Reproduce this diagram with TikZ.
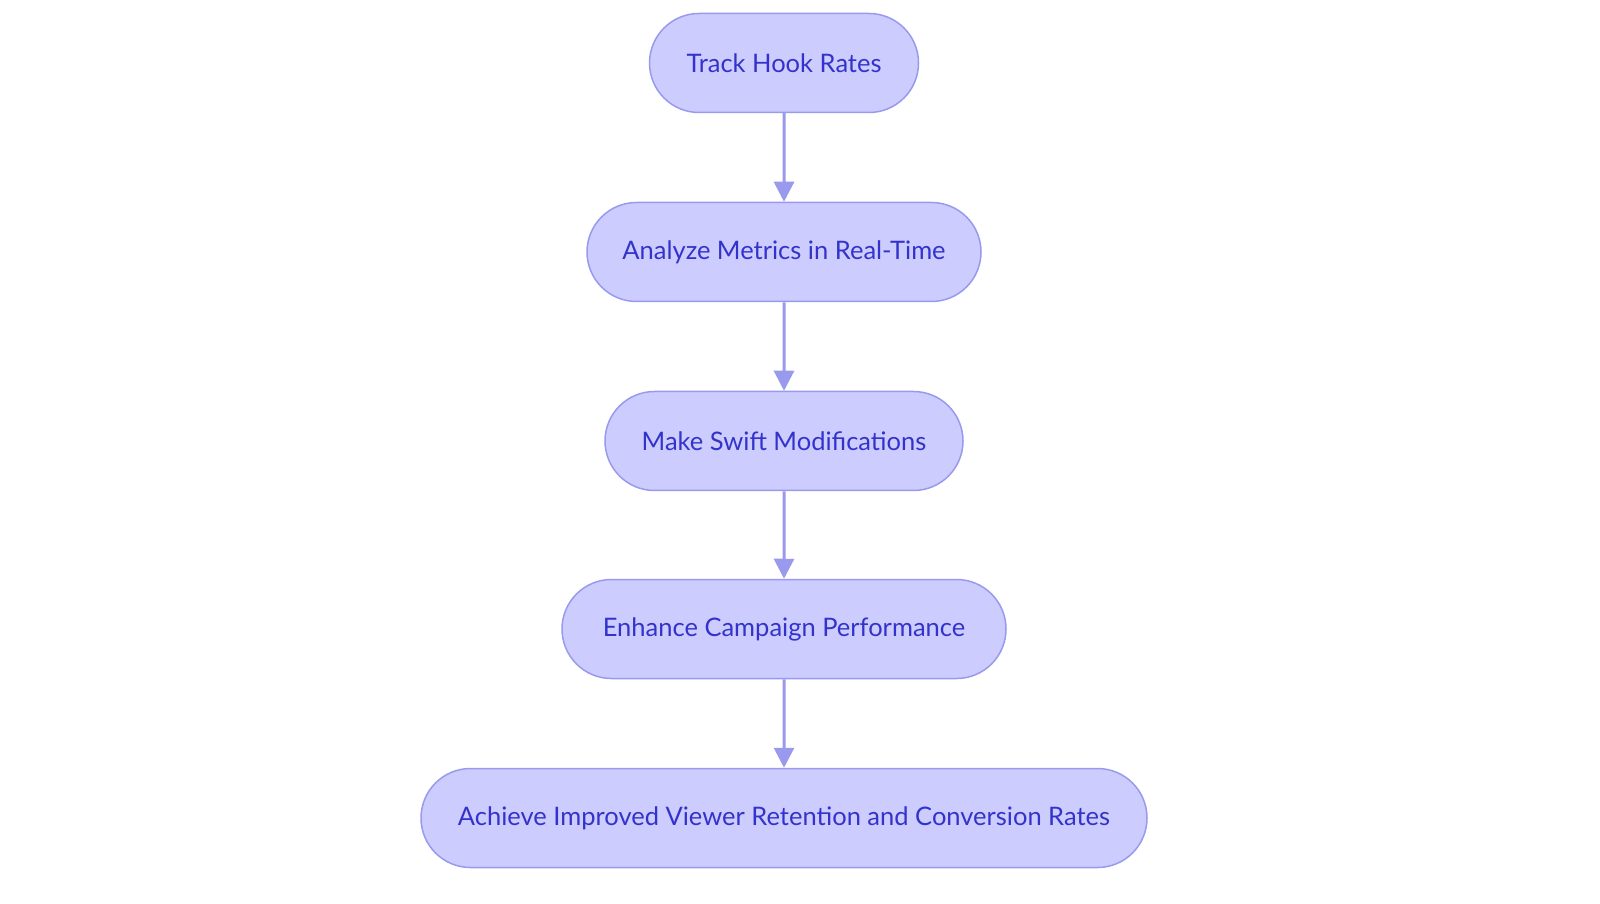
\documentclass[tikz,border=0pt]{standalone}
\usepackage{fontspec}
\setmainfont{Lato}
\usetikzlibrary{shapes.misc,arrows.meta}
\definecolor{boxfill}{HTML}{CCCCFF}
\definecolor{boxline}{HTML}{9999EE}
\definecolor{boxtext}{HTML}{3333CC}
\tikzset{
  pill/.style={rounded rectangle, draw=boxline, fill=boxfill, line width=1.5pt,
    text=boxtext, font=\fontsize{25.5}{30}\selectfont, minimum height=99pt, inner xsep=0pt},
  flow/.style={draw=boxline, line width=3pt, -{Triangle[length=20pt,width=20pt]}}
}
\begin{document}
\begin{tikzpicture}[x=1pt,y=1pt]
\useasboundingbox (0,0) rectangle (1600,903);
\node[pill, minimum width=269pt] (a) at (784,840) {Track Hook Rates};
\node[pill, minimum width=394pt] (b) at (784,651) {Analyze Metrics in Real-Time};
\node[pill, minimum width=358pt] (c) at (784,462) {Make Swift Modifications};
\node[pill, minimum width=444pt] (d) at (784,274) {Enhance Campaign Performance};
\node[pill, minimum width=726pt] (e) at (784,85) {Achieve Improved Viewer Retention and Conversion Rates};
\draw[flow] (a) -- (b);
\draw[flow] (b) -- (c);
\draw[flow] (c) -- (d);
\draw[flow] (d) -- (e);
\end{tikzpicture}
\end{document}
